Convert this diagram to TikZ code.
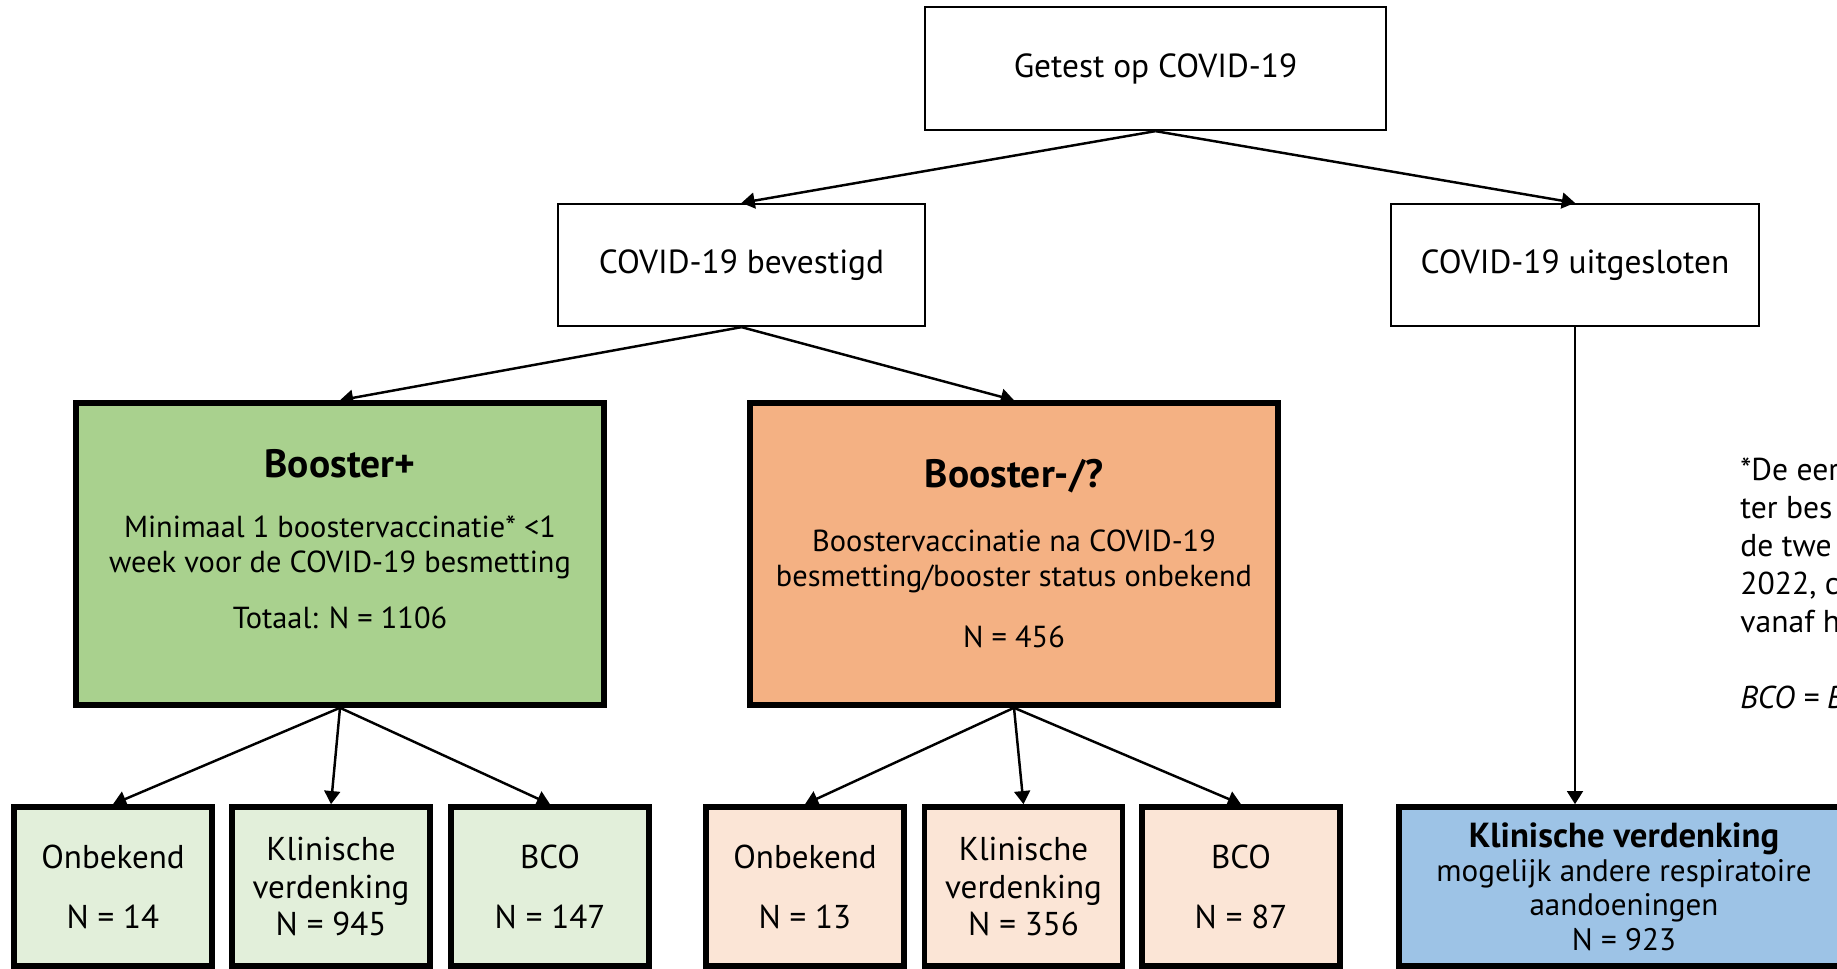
\documentclass[tikz,border=0pt]{standalone}
\usepackage{fontspec}
\setmainfont{PT Sans}
\usetikzlibrary{arrows.meta}
\definecolor{boostgroen}{HTML}{A9D18E}
\definecolor{lichtgroen}{HTML}{E2EFDA}
\definecolor{boostoranje}{HTML}{F4B183}
\definecolor{lichtoranje}{HTML}{FBE5D6}
\definecolor{klinblauw}{HTML}{9DC3E6}
\newcommand{\kop}[1]{{\fontsize{22.5}{24}\selectfont\bfseries #1}}

\begin{document}
\begin{tikzpicture}[x=0.02cm,y=-0.02cm,
  stapbox/.style={draw,line width=1.3pt,minimum width=7.34cm,minimum height=2.44cm,
    align=center,font=\fontsize{19}{21}\selectfont},
  groepbox/.style={draw,line width=3.2pt,minimum width=10.56cm,minimum height=6.04cm,
    align=center,font=\fontsize{17.3}{20}\selectfont},
  uitkomst/.style={draw,line width=3.2pt,minimum width=3.96cm,minimum height=3.18cm,
    align=center,font=\fontsize{18.8}{21.6}\selectfont},
  pijl/.style={-{Triangle[length=7.5pt,width=9pt]},line width=1.4pt}]
  \useasboundingbox (0,0) rectangle (1837,968);
  % bovenste niveaus
  \node[stapbox,minimum width=9.22cm,minimum height=2.46cm] (getest) at (1155.5,68.5) {Getest op COVID-19};
  \node[stapbox] (bevestigd) at (741.5,265) {COVID-19 bevestigd};
  \node[stapbox,minimum width=7.36cm] (uitgesloten) at (1575,265) {COVID-19 uitgesloten};
  % booster groepen
  \node[groepbox,fill=boostgroen] (boosterplus) at (340,554)
    {\kop{Booster+}\\[0.5cm]
     Minimaal 1 boostervaccinatie* <1\\
     week voor de COVID-19 besmetting\\[0.42cm]
     Totaal: N = 1106\rule[-0.6cm]{0pt}{0.6cm}};
  \node[groepbox,fill=boostoranje] (boostermin) at (1014,554)
    {\kop{Booster-/?}\\[0.57cm]
     Boostervaccinatie na COVID-19\\
     besmetting/booster status onbekend\\[0.52cm]
     N = 456};
  % uitkomsten
  \node[uitkomst,fill=lichtgroen] (onbekendplus) at (113,886.5) {Onbekend\\[0.44cm]N = 14};
  \node[uitkomst,fill=lichtgroen] (klinischplus) at (331,886.5) {Klinische\\verdenking\\N = 945};
  \node[uitkomst,fill=lichtgroen] (bcoplus) at (550,886.5) {BCO\\[0.44cm]N = 147};
  \node[uitkomst,fill=lichtoranje] (onbekendmin) at (805,886.5) {Onbekend\\[0.44cm]N = 13};
  \node[uitkomst,fill=lichtoranje] (klinischmin) at (1023.5,886.5) {Klinische\\verdenking\\N = 356};
  \node[uitkomst,fill=lichtoranje] (bcomin) at (1241,886.5) {BCO\\[0.44cm]N = 87};
  \node[uitkomst,fill=klinblauw,minimum width=9.0cm,font=\fontsize{17.7}{19.5}\selectfont] (klinisch) at (1624,886.5)
    {{\fontsize{19.8}{20}\selectfont\bfseries Klinische verdenking}\\
     mogelijk andere respiratoire\\aandoeningen\\N = 923};
  % voetnoot (rechts afgesneden)
  \node[anchor=north west,inner sep=0pt,align=left,font=\fontsize{18}{21.6}\selectfont] (voetnoot) at (1740,458)
    {*De eer\\ter bes\\de twe\\2022, c\\vanaf h\\[0.75cm]\textit{BCO = B}};
  % pijlen
  \draw[pijl] (getest.south) -- (bevestigd.north);
  \draw[pijl] (getest.south) -- (uitgesloten.north);
  \draw[pijl] (bevestigd.south) -- (boosterplus.north);
  \draw[pijl] (bevestigd.south) -- (boostermin.north);
  \draw[pijl] (uitgesloten.south) -- (uitgesloten.south |- klinisch.north);
  \foreach \doel in {onbekendplus,klinischplus,bcoplus}
    \draw[pijl] (boosterplus.south) -- (\doel.north);
  \foreach \doel in {onbekendmin,klinischmin,bcomin}
    \draw[pijl] (boostermin.south) -- (\doel.north);
\end{tikzpicture}
\end{document}
